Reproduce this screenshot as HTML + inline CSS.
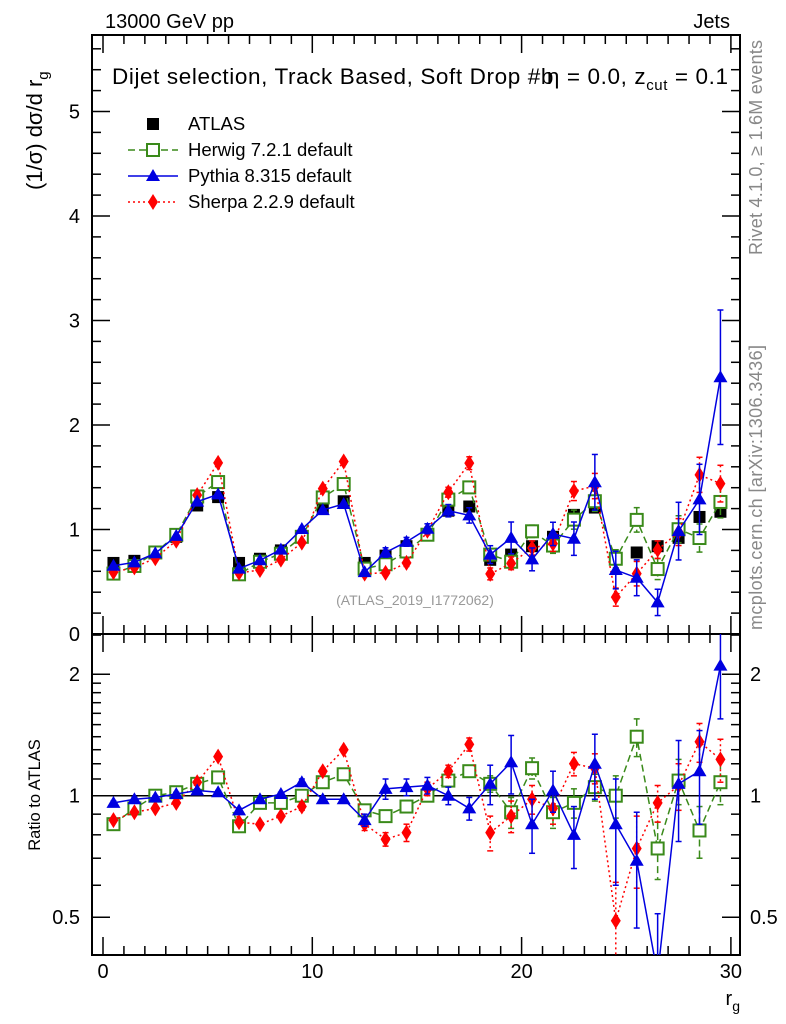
<!DOCTYPE html>
<html><head><meta charset="utf-8"><style>
body{margin:0;background:#fff}
svg{display:block;font-family:"Liberation Sans",sans-serif}
</style></head><body>
<svg id="c" width="786" height="1024" viewBox="0 0 786 1024" xmlns="http://www.w3.org/2000/svg">
<text x="105" y="28" font-size="20">13000 GeV pp</text>
<text x="730" y="28" font-size="20" text-anchor="end">Jets</text>
<text x="112" y="84" font-size="22.5" textLength="616">Dijet selection, Track Based, Soft Drop #b<tspan dx="-7">η = 0.0, z</tspan><tspan font-size="15" dy="6">cut</tspan><tspan dy="-6"> = 0.1</tspan></text>
<text transform="translate(42,190) rotate(-90)" font-size="22">(1/σ) dσ/d r<tspan font-size="15" dy="6">g</tspan></text>
<text transform="translate(40,795) rotate(-90)" font-size="16.5" text-anchor="middle">Ratio to ATLAS</text>
<text transform="translate(762,40) rotate(-90)" font-size="18" fill="#888" text-anchor="end" textLength="215">Rivet 4.1.0, ≥ 1.6M events</text>
<text transform="translate(762,345) rotate(-90)" font-size="18" fill="#888" text-anchor="end" textLength="285">mcplots.cern.ch [arXiv:1306.3436]</text>
<text x="415" y="605" font-size="14" fill="#999" text-anchor="middle">(ATLAS_2019_I1772062)</text>
<text x="740" y="1005" font-size="20" text-anchor="end">r<tspan font-size="14" dy="6">g</tspan></text>
<g id="plot"></g>
</svg>
<script>
const bins=[0.5,1.5,2.5,3.5,4.5,5.5,6.5,7.5,8.5,9.5,10.5,11.5,12.5,13.5,14.5,15.5,16.5,17.5,18.5,19.5,20.5,21.5,22.5,23.5,24.5,25.5,26.5,27.5,28.5,29.5];
const atlas=[0.68,0.70,0.78,0.93,1.23,1.31,0.68,0.72,0.80,0.93,1.21,1.27,0.68,0.75,0.84,0.95,1.18,1.22,0.71,0.76,0.84,0.93,1.14,1.21,0.72,0.78,0.84,0.92,1.12,1.17];
const herwigRatio=[0.85,0.93,1.0,1.02,1.07,1.11,0.84,0.96,0.96,1.0,1.08,1.13,0.92,0.89,0.94,1.0,1.09,1.15,1.07,0.91,1.17,0.91,0.96,1.05,1.0,1.40,0.74,1.09,0.82,1.08];
const pythiaRatio=[0.96,0.98,0.99,1.01,1.03,1.02,0.92,0.98,1.01,1.08,0.98,0.98,0.87,1.04,1.05,1.06,1.0,0.93,1.07,1.21,0.85,1.03,0.80,1.20,0.85,0.69,0.36,1.07,1.15,2.1];
const sherpaRatio=[0.87,0.91,0.93,0.96,1.08,1.25,0.86,0.85,0.89,0.94,1.15,1.30,0.85,0.78,0.81,1.04,1.15,1.34,0.81,0.89,0.98,0.93,1.20,1.17,0.49,0.74,0.96,1.06,1.36,1.23];
const herwigErr=[0.01,0.01,0.01,0.01,0.01,0.01,0.01,0.01,0.01,0.01,0.01,0.02,0.03,0.03,0.03,0.03,0.03,0.03,0.05,0.08,0.07,0.08,0.08,0.08,0.12,0.15,0.12,0.14,0.12,0.13];
const pythiaErr=[0.01,0.01,0.01,0.01,0.01,0.01,0.01,0.01,0.01,0.02,0.01,0.01,0.03,0.06,0.05,0.05,0.05,0.06,0.12,0.20,0.13,0.12,0.14,0.22,0.25,0.22,0.15,0.30,0.30,0.55];
const sherpaErr=[0.01,0.01,0.01,0.01,0.01,0.02,0.01,0.01,0.01,0.02,0.02,0.02,0.03,0.03,0.04,0.04,0.04,0.05,0.08,0.08,0.08,0.08,0.08,0.10,0.12,0.15,0.10,0.14,0.15,0.15];
const xTicks=[0,10,20,30];
const yTicks=[0,1,2,3,4,5];
const rTicks=[0.5,1,2];

const NS="http://www.w3.org/2000/svg";
const g=document.getElementById('plot');
const L=92,R=740,T=35,M=634,B=955;
const X=v=>103+20.93*v;
const Y=v=>634-104.5*v;
const RY=v=>795.7-121.5*Math.log2(v);
function mk(tag,attrs,parent){const e=document.createElementNS(NS,tag);for(const k in attrs)e.setAttribute(k,attrs[k]);(parent||g).appendChild(e);return e;}
function line(x1,y1,x2,y2,st,w,dash){return mk('line',{x1,y1,x2,y2,stroke:st,'stroke-width':w||1,'stroke-dasharray':dash||'none'});}

let f1=mk('rect',{x:L,y:T,width:R-L,height:M-T,fill:'none',stroke:'#000','stroke-width':2});


let f2=mk('rect',{x:L,y:M,width:R-L,height:B-M,fill:'none',stroke:'#000','stroke-width':2});



for(let v=0;v<=30;v++){const maj=v%10==0;const h=maj?18:9;const x=X(v);
 line(x,M,x,M-h,'#000',1.5);line(x,T,x,T+h,'#000',1.5);
 line(x,B,x,B-h,'#000',1.5);line(x,M,x,M+h,'#000',1.5);}
xTicks.forEach(v=>{const t=mk('text',{x:X(v),y:978,'font-size':20,'text-anchor':'middle'});t.textContent=v;
 
 });
for(let i=0;i<=28;i++){const v=i*0.2;const maj=i%5==0;const h=maj?18:9;const y=Y(v);if(y<T)continue;
 line(L,y,L+h,y,'#000',1.5);line(R,y,R-h,y,'#000',1.5);}
yTicks.forEach(v=>{const t=mk('text',{x:80,y:Y(v)+7,'font-size':20,'text-anchor':'end'});t.textContent=v;
 
 });
[0.5,0.6,0.7,0.8,0.9,1,1.1,1.2,1.3,1.4,1.5,1.6,1.7,1.8,1.9,2,2.5].forEach(v=>{const y=RY(v);if(y<M||y>B)return;const maj=rTicks.includes(v);const h=maj?18:9;
 line(L,y,L+h,y,'#000',1.5);line(R,y,R-h,y,'#000',1.5);});
rTicks.forEach(v=>{[[80,'end'],[750,'start']].forEach(([x,a])=>{const t=mk('text',{x,y:RY(v)+7,'font-size':20,'text-anchor':a});t.textContent=v;
 
 });});
line(L,RY(1),R,RY(1),'#000',1.5);

const defs=mk('defs',{});
const c1=mk('clipPath',{id:'ct'},defs);mk('rect',{x:L,y:T,width:R-L,height:M-T},c1);
const c2=mk('clipPath',{id:'cb'},defs);mk('rect',{x:L,y:M,width:R-L,height:B-M},c2);
const gt=mk('g',{'clip-path':'url(#ct)'});const gb=mk('g',{'clip-path':'url(#cb)'});

function marker(par,type,x,y,col,name){let e;
 if(type=='sq')e=mk('rect',{x:x-6,y:y-6,width:12,height:12,fill:'#000'},par);
 else if(type=='osq')e=mk('rect',{x:x-6,y:y-6,width:12,height:12,fill:'#fff',stroke:col,'stroke-width':2},par);
 else if(type=='tri')e=mk('polygon',{points:`${x},${y-7} ${x-7},${y+5} ${x+7},${y+5}`,fill:col},par);
 else e=mk('polygon',{points:`${x},${y-8} ${x-5},${y} ${x},${y+8} ${x+5},${y}`,fill:col},par);
 
 }

const series=[
 {name:'herwig',ratio:herwigRatio,err:herwigErr,col:'#3a8a1a',dash:'7,4',type:'osq'},
 {name:'sherpa',ratio:sherpaRatio,err:sherpaErr,col:'#ff0000',dash:'2,3',type:'dia'},
 {name:'pythia',ratio:pythiaRatio,err:pythiaErr,col:'#0000e0',dash:'none',type:'tri'}];

bins.forEach((b,i)=>{marker(gt,'sq',X(b),Y(atlas[i]),'#000','atlas-point');});
series.forEach(s=>{
 const abs=s.ratio.map((r,i)=>r*atlas[i]);
 [[gt,abs,Y,s.err.map((e,i)=>e*atlas[i])],[gb,s.ratio,RY,s.err]].forEach(([par,vals,fy,er])=>{
  const p=mk('polyline',{points:bins.map((b,i)=>X(b)+','+fy(vals[i])).join(' '),fill:'none',stroke:s.col,'stroke-width':1.5,'stroke-dasharray':s.dash},par);
  
  
  bins.forEach((b,i)=>{const x=X(b);const y1=fy(vals[i]+er[i]),y2=fy(Math.max(vals[i]-er[i],0.01));
   mk('line',{x1:x,y1,x2:x,y2,stroke:s.col,'stroke-width':1.5,'stroke-dasharray':s.dash},par);
   mk('line',{x1:x-3,y1,x2:x+3,y2:y1,stroke:s.col,'stroke-width':1.5},par);
   mk('line',{x1:x-3,y1:y2,x2:x+3,y2,stroke:s.col,'stroke-width':1.5},par);
   marker(par,s.type,x,fy(vals[i]),s.col,s.name+'-point');});
 });
});

const leg=[['ATLAS','sq','#000','none'],['Herwig 7.2.1 default','osq','#3a8a1a','7,4'],['Pythia 8.315 default','tri','#0000e0','none'],['Sherpa 2.2.9 default','dia','#ff0000','2,3']];
leg.forEach((l,i)=>{const y=124+26*i;
 if(i>0)line(128,y,178,y,l[2],1.5,l[3]);
 marker(g,l[1],153,y,l[2],'legend-marker');
 const t=mk('text',{x:188,y:y+6,'font-size':18.5});t.textContent=l[0];
 
 });
</script>
</body></html>
